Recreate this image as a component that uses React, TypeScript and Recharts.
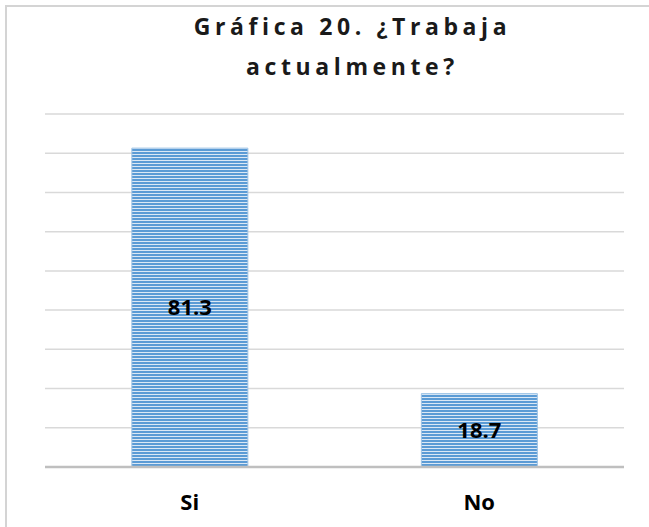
import React from 'react';
import { BarChart, Bar, XAxis, YAxis, CartesianGrid, LabelList } from 'recharts';

const categories = ['Si', 'No'];
const percentages = [81.3, 18.7];
const yTicks = [0, 10, 20, 30, 40, 50, 60, 70, 80, 90];

const data = categories.map((name, i) => ({ name, value: percentages[i] }));

export default function App() {
  return (
    <div
      style={{
        position: 'absolute',
        left: 5,
        top: 5,
        width: 660,
        height: 540,
        background: '#fff',
        fontFamily: '"Open Sans", sans-serif',
        outline: '2px solid #d4d4d4',
        outlineOffset: -2,
      }}
    >
      <div
        style={{
          position: 'absolute',
          top: 1,
          left: 0,
          width: 643,
          paddingLeft: 52,
          boxSizing: 'border-box',
          textAlign: 'center',
          fontWeight: 700,
          fontSize: 23,
          lineHeight: '40px',
          letterSpacing: 4.6,
          color: '#1a1a1a',
          zIndex: 2,
        }}
      >
        Gráfica 20. ¿Trabaja
        <br />
        actualmente?
      </div>
      <div style={{ position: 'absolute', top: 0, left: 0 }}>
        <BarChart
          width={643}
          height={522}
          data={data}
          margin={{ top: 109, right: 24, left: 40, bottom: 25 }}
          barCategoryGap="30%"
        >
          <defs>
            <pattern id="hstripes" width="6" height="3" patternUnits="userSpaceOnUse">
              <rect width="6" height="3" fill="#dbe8f5" />
              <rect width="6" height="2" fill="#5b9bd5" />
            </pattern>
          </defs>
          <CartesianGrid vertical={false} stroke="#d9d9d9" strokeWidth={1.5} />
          <YAxis hide domain={[0, 90]} ticks={yTicks} />
          <XAxis
            dataKey="name"
            height={35}
            tickLine={false}
            axisLine={{ stroke: '#bfbfbf', strokeWidth: 2.5 }}
            tick={{ fill: '#000', fontSize: 22, fontWeight: 700 }}
            dy={19}
          />
          <Bar dataKey="value" fill="url(#hstripes)" stroke="#9dc3e6" strokeWidth={1} isAnimationActive={false}>
            <LabelList
              dataKey="value"
              position="center"
              fill="#000"
              fontSize={22}
              fontWeight={700}
            />
          </Bar>
        </BarChart>
      </div>
    </div>
  );
}
